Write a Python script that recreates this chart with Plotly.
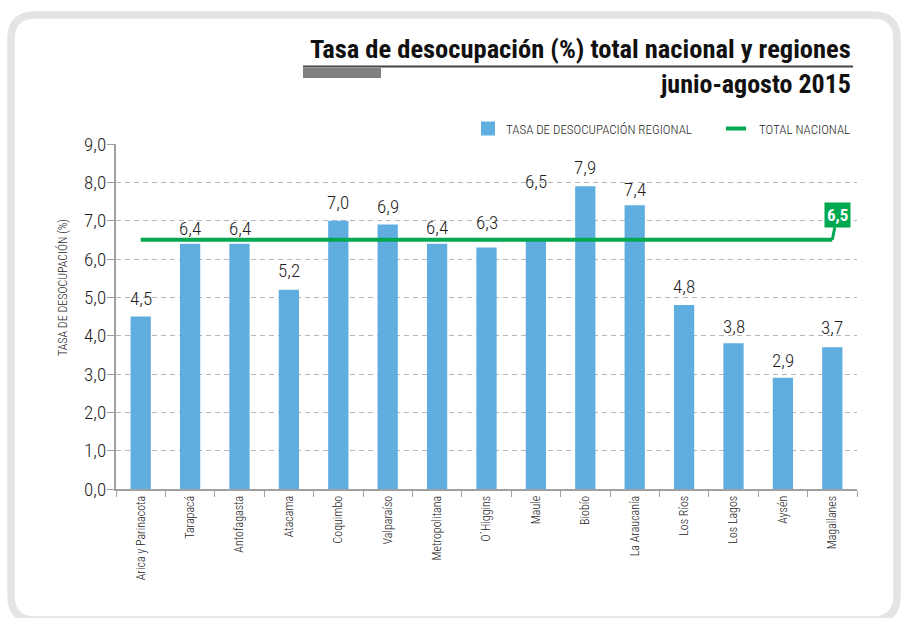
import plotly.graph_objects as go

regions = ["Arica y Parinacota", "Tarapacá", "Antofagasta", "Atacama", "Coquimbo",
           "Valparaíso", "Metropolitana", "O´Higgins", "Maule", "Biobío",
           "La Araucanía", "Los Ríos", "Los Lagos", "Aysén", "Magallanes"]
regional_rate = [4.5, 6.4, 6.4, 5.2, 7.0, 6.9, 6.4, 6.3, 6.5, 7.9, 7.4, 4.8, 3.8, 2.9, 3.7]
national_rate = 6.5
y_ticks = [0, 1, 2, 3, 4, 5, 6, 7, 8, 9]

# label lift (pixels) above each bar top (style, not data)
label_shift = [18, 15, 15, 19, 18, 18, 16, 25, 58, 19, 16, 19, 17, 17, 20]

FONT = "Roboto Condensed, DejaVu Sans Condensed, sans-serif"
BLUE = "#60ade0"
GREEN = "#00a94f"
TXT = "#333333"
DARK = "#1e1e1e"

L, R, T, B = 116, 857, 144, 489
W, H = 901, 618


def px(x):
    return (x - L) / (R - L)


def py(y):
    return (B - y) / (B - T)


fig = go.Figure()
fig.add_trace(go.Bar(x=regions, y=regional_rate, marker=dict(color=BLUE, line=dict(width=0)),
                     width=0.41, hoverinfo="x+y", showlegend=False))
fig.add_trace(go.Scatter(x=regions, y=[national_rate] * len(regions), mode="lines",
                         line=dict(color=GREEN, width=4), showlegend=False))

annotations = []
for r, v, s in zip(regions, regional_rate, label_shift):
    annotations.append(dict(x=r, y=v, xref="x", yref="y", text=f"{v:.1f}".replace(".", ","),
                            showarrow=False, yanchor="middle", yshift=s,
                            font=dict(family=FONT, size=19, color=DARK, weight=300)))

# national label box
annotations.append(dict(x=regions[-1], y=national_rate, xref="x", yref="y",
                        text="<b>" + f"{national_rate:.1f}".replace(".", ",") + "</b>",
                        showarrow=True, arrowhead=0, arrowwidth=3, arrowcolor=GREEN,
                        ax=5, ay=-25, bgcolor=GREEN, borderpad=2,
                        font=dict(family=FONT, size=17, color="white")))

# titles
annotations.append(dict(xref="paper", yref="paper", x=px(853), y=py(48), xanchor="right",
                        yanchor="middle", showarrow=False,
                        text="<b>Tasa de desocupación (%) total nacional y regiones</b>",
                        font=dict(family=FONT, size=26.5, color="#111111")))
annotations.append(dict(xref="paper", yref="paper", x=px(853), y=py(84), xanchor="right",
                        yanchor="middle", showarrow=False,
                        text="<b>junio-agosto 2015</b>",
                        font=dict(family=FONT, size=26, color="#111111")))
# legend texts
annotations.append(dict(xref="paper", yref="paper", x=px(504), y=py(129), xanchor="left",
                        yanchor="middle", showarrow=False,
                        text="TASA DE DESOCUPACIÓN REGIONAL",
                        font=dict(family=FONT, size=13, color=DARK, weight=300)))
annotations.append(dict(xref="paper", yref="paper", x=px(757), y=py(129), xanchor="left",
                        yanchor="middle", showarrow=False,
                        text="TOTAL NACIONAL",
                        font=dict(family=FONT, size=13, color=DARK, weight=300)))
# y axis title
annotations.append(dict(xref="paper", yref="paper", x=px(62), y=py(288), xanchor="center",
                        yanchor="middle", showarrow=False, textangle=-90,
                        text="TASA DE DESOCUPACIÓN (%)",
                        font=dict(family=FONT, size=12, color=DARK, weight=300)))

shapes = []
# frame with rounded corners
x0, y0, x1, y1, rad = 11, 15, 897, 620, 24
path = (f"M {px(x0 + rad)},{py(y0)} L {px(x1 - rad)},{py(y0)} "
        f"Q {px(x1)},{py(y0)} {px(x1)},{py(y0 + rad)} "
        f"L {px(x1)},{py(y1 - rad)} Q {px(x1)},{py(y1)} {px(x1 - rad)},{py(y1)} "
        f"L {px(x0 + rad)},{py(y1)} Q {px(x0)},{py(y1)} {px(x0)},{py(y1 - rad)} "
        f"L {px(x0)},{py(y0 + rad)} Q {px(x0)},{py(y0)} {px(x0 + rad)},{py(y0)} Z")
shapes.append(dict(type="path", xref="paper", yref="paper", path=path,
                   line=dict(color="#e4e4e4", width=7.5), layer="below"))
# title rule and gray bar
shapes.append(dict(type="line", xref="paper", yref="paper", x0=px(303), x1=px(853),
                   y0=py(66.5), y1=py(66.5), line=dict(color="#444444", width=2)))
shapes.append(dict(type="rect", xref="paper", yref="paper", x0=px(303), x1=px(381),
                   y0=py(68), y1=py(78), line=dict(width=0), fillcolor="#808080"))
# legend symbols
shapes.append(dict(type="rect", xref="paper", yref="paper", x0=px(481), x1=px(495),
                   y0=py(121.5), y1=py(135.5), line=dict(width=0), fillcolor=BLUE))
shapes.append(dict(type="line", xref="paper", yref="paper", x0=px(726), x1=px(746),
                   y0=py(128.5), y1=py(128.5), line=dict(color=GREEN, width=4)))

fig.update_layout(
    width=W, height=H,
    margin=dict(l=L, r=W - R, t=T, b=H - B, pad=0),
    paper_bgcolor="white", plot_bgcolor="white",
    separators=",.",
    font=dict(family=FONT, color=TXT),
    annotations=annotations, shapes=shapes,
    bargap=0.58,
)
fig.update_yaxes(range=[0, 9], tickvals=y_ticks, tickformat=".1f",
                 showgrid=True, gridcolor="#b5b5b5", griddash="5px,4px", gridwidth=1,
                 showline=True, linecolor="#a0a0a0", linewidth=2,
                 ticks="outside", ticklen=7, tickcolor="#a0a0a0", tickwidth=1,
                 ticklabelstandoff=-3,
                 tickfont=dict(family=FONT, size=19, color=DARK, weight=300), zeroline=False)
fig.update_xaxes(range=[-0.5, len(regions) - 0.5], tickangle=-90, tickson="boundaries",
                 showline=True, linecolor="#a0a0a0", linewidth=2,
                 ticks="outside", ticklen=6, tickcolor="#a0a0a0",
                 tickfont=dict(family=FONT, size=12, color=DARK, weight=300), showgrid=False)

fig.write_html("out.html", config={"displayModeBar": False},
               post_script="document.body.style.margin='0';")
